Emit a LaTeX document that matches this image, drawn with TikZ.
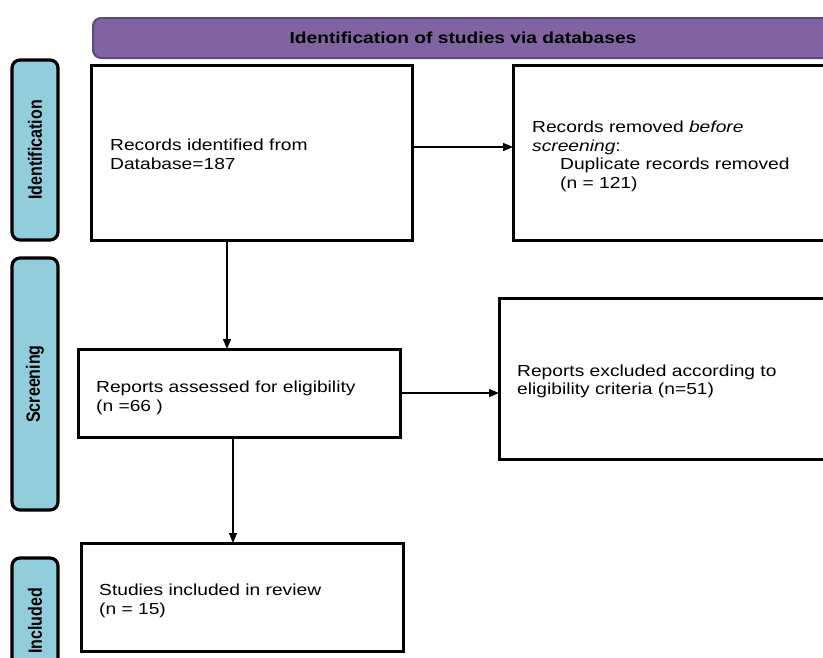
\documentclass[tikz,border=0pt]{standalone}
\usepackage{graphicx}
\usepackage{fontspec}
\setmainfont{Liberation Sans}[FakeStretch=1.2]
\newfontfamily\sidefont{Liberation Sans}
\usetikzlibrary{arrows.meta}
\definecolor{sideblue}{HTML}{92CDDC}
\definecolor{headfill}{HTML}{8064A2}
\definecolor{headline}{HTML}{5F497A}
\tikzset{
  box/.style={draw, line width=3pt, anchor=north west, outer sep=0pt, inner sep=0pt},
  txt/.style={anchor=west, align=left, inner sep=0pt, font=\fontsize{16}{18.6}\selectfont},
  side/.style={draw, line width=3.2pt, fill=sideblue, rounded corners=8pt, rotate=90,
    inner sep=0pt, outer sep=0pt, font=\sidefont\bfseries\fontsize{16}{18}\selectfont},
  head/.style={draw=headline, line width=2pt, fill=headfill, rounded corners=8pt,
    anchor=north west, inner sep=0pt, font=\bfseries\fontsize{16}{18}\selectfont},
  arr/.style={line width=1.3pt, -{Triangle[length=10pt,width=8pt]}},
}
\begin{document}
\begin{tikzpicture}[x=1pt,y=-1pt]
\useasboundingbox (0,0) rectangle (823,657);
\clip (0,0) rectangle (823,657);
% header
\node[head, minimum width=740pt, minimum height=40pt] (hd) at (92,17) {Identification of studies via databases};
% side bars
\node[side, minimum width=180pt, minimum height=46pt] (s1) at (35,150) {\scalebox{1}[1.2]{Identification}};
\node[side, minimum width=252pt, minimum height=46pt] (s2) at (35,384) {\scalebox{1}[1.2]{Screening}};
\node[side, minimum width=126pt, minimum height=46pt] (s3) at (35,621) {\scalebox{1}[1.2]{Included}};
% boxes
\node[box, minimum width=321pt, minimum height=175pt] (b1) at (91,65) {};
\node[box, minimum width=330pt, minimum height=175pt] (b2) at (513,65) {};
\node[box, minimum width=322pt, minimum height=88pt] (b3) at (78,349) {};
\node[box, minimum width=340pt, minimum height=161pt] (b4) at (499,298) {};
\node[box, minimum width=322pt, minimum height=108pt] (b5) at (81,543) {};
% texts
\node[txt] (t1) at ([xshift=19pt,yshift=-2pt]b1.west) {Records identified from\\Database=187};
\node[txt] (t2) at ([xshift=19pt,yshift=-4pt]b2.west)
  {Records removed \textit{before}\\\textit{screening}:\\\hspace*{28pt}Duplicate records removed\\\hspace*{28pt}(n = 121)};
\node[txt] (t3) at ([xshift=18pt,yshift=-5pt]b3.west) {Reports assessed for eligibility\\(n =66 )};
\node[txt] (t4) at ([xshift=18pt,yshift=-3pt]b4.west) {Reports excluded according to\\eligibility criteria (n=51)};
\node[txt] (t5) at ([xshift=18pt,yshift=-4pt]b5.west) {Studies included in review\\(n = 15)};
% arrows
\draw[arr] ([yshift=5.5pt]b1.east) -- ([yshift=5.5pt]b2.west);
\draw[arr] ([xshift=-24.5pt]b1.south) -- ([xshift=-24.5pt]b1.south |- b3.north);
\draw[arr] (b3.east) -- (b3.east -| b4.west);
\draw[arr] ([xshift=-6pt]b3.south) -- ([xshift=-6pt]b3.south |- b5.north);
\end{tikzpicture}
\end{document}
